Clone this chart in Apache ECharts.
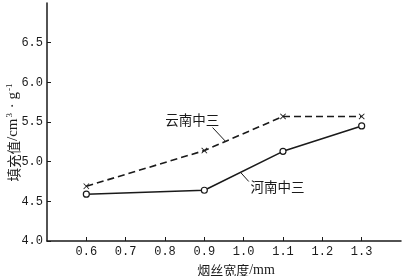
<!DOCTYPE html>
<html><head><meta charset="utf-8">
<script src="https://cdn.jsdelivr.net/npm/echarts@6/dist/echarts.min.js"></script>
<style>html,body{margin:0;padding:0;background:#fff}#c{width:406px;height:276px}</style>
</head><body><div id="c"></div>
<script>
const widths = [0.6, 0.9, 1.1, 1.3];
const yunnan = [4.69, 5.14, 5.57, 5.57];
const henan = [4.59, 4.64, 5.13, 5.45];
const yunnanName = '云南中三';
const henanName = '河南中三';
const yunnanLabelAt = [0.869, 5.53];
const yunnanLeader = [[0.921, 5.43], [0.955, 5.25]];
const henanLabelAt = [1.086, 4.68];
const henanLeader = [[0.993, 4.86], [1.013, 4.75]];

const ink = '#1a1a1a';
const cjk = '"Noto Sans CJK SC"';
const cross = 'path://M0,1L1,0L5,4L9,0L10,1L6,5L10,9L9,10L5,6L1,10L0,9L4,5Z';

function annot(pos, name, leader) {
  return {
    markPoint: {
      symbol: 'circle', symbolSize: 1, itemStyle: {color: 'rgba(0,0,0,0)'},
      label: {show: true, formatter: name, color: ink, fontFamily: cjk, fontSize: 13.5, position: 'inside'},
      data: [{coord: pos}], animation: false
    },
    markLine: {
      symbol: ['none', 'none'], silent: true, animation: false,
      lineStyle: {color: ink, type: 'solid', width: 1},
      label: {show: false},
      data: [[{coord: leader[0]}, {coord: leader[1]}]]
    }
  };
}

const chart = echarts.init(document.getElementById('c'), null, {renderer: 'canvas'});
chart.setOption({
  animation: false,
  grid: {left: 47, right: 5, top: 3, bottom: 35, containLabel: false, outerBoundsMode: 'none'},
  xAxis: {
    type: 'value', min: 0.5, max: 1.4, interval: 0.1,
    name: '{a|烟丝宽度}{b|/mm}', nameLocation: 'middle', nameGap: 22, nameMoveOverlap: false,
    nameTextStyle: {padding: [0, 0, 0, 24], rich: {
      a: {fontFamily: cjk, fontSize: 13, color: ink},
      b: {fontFamily: '"Liberation Serif"', fontSize: 14, color: ink}
    }},
    axisLine: {lineStyle: {color: ink, width: 1.5}},
    axisTick: {inside: true, length: 4, lineStyle: {color: ink}},
    axisLabel: {showMinLabel: false, showMaxLabel: false, margin: 5,
      fontFamily: '"Liberation Mono"', fontSize: 12, color: ink,
      formatter: v => v.toFixed(1)},
    splitLine: {show: false}
  },
  yAxis: {
    type: 'value', min: 4.0, max: 7.0, interval: 0.5,
    name: '{a|填充值}{b|/cm}{s|3}{b| · g}{s|-1}', nameLocation: 'middle', nameGap: 25, nameMoveOverlap: false,
    nameTextStyle: {padding: [0, 20, 0, 0], rich: {
      a: {fontFamily: cjk, fontSize: 13.5, color: ink},
      b: {fontFamily: '"Liberation Serif"', fontSize: 15, color: ink},
      s: {fontFamily: '"Liberation Serif"', fontSize: 9, color: ink, padding: [0, 1, 8, 1]}
    }},
    axisLine: {show: true, lineStyle: {color: ink, width: 1.5}},
    axisTick: {show: true, inside: true, length: 4, lineStyle: {color: ink}},
    axisLabel: {showMaxLabel: false, margin: 4,
      fontFamily: '"Liberation Mono"', fontSize: 12, color: ink,
      formatter: v => v.toFixed(1)},
    splitLine: {show: false}
  },
  series: [
    Object.assign({
      name: yunnanName, type: 'line',
      data: widths.map((w, i) => [w, yunnan[i]]),
      symbol: cross, symbolSize: 6, showAllSymbol: true,
      itemStyle: {color: ink},
      lineStyle: {color: ink, width: 1.6, type: [7, 4]}
    }, annot(yunnanLabelAt, yunnanName, yunnanLeader)),
    Object.assign({
      name: henanName, type: 'line',
      data: widths.map((w, i) => [w, henan[i]]),
      symbol: 'circle', symbolSize: 6, showAllSymbol: true,
      itemStyle: {color: '#ffffff', borderColor: ink, borderWidth: 1.2},
      lineStyle: {color: ink, width: 1.6}
    }, annot(henanLabelAt, henanName, henanLeader))
  ]
});
</script></body></html>
